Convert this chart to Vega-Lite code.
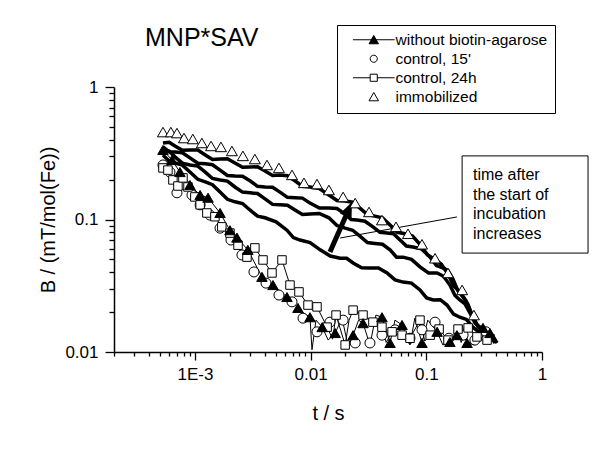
{
  "$schema": "https://vega.github.io/schema/vega-lite/v6.json",
  "width": 428,
  "height": 265,
  "autosize": {"type": "none"},
  "padding": {"left": 114, "top": 87, "right": 58, "bottom": 98},
  "title": {"text": "MNP*SAV", "anchor": "start", "frame": "group", "dx": 31, "offset": 0, "dy": 46, "baseline": "alphabetic", "fontSize": 25, "font": "Liberation Sans", "fontWeight": "normal", "color": "black"},
  "config": {"view": {"stroke": null}, "font": "Liberation Sans"},
  "datasets": {
    "markers": [
      {"series": "without biotin-agarose", "t": 0.00053, "B": 0.335},
      {"series": "without biotin-agarose", "t": 0.000634, "B": 0.281},
      {"series": "without biotin-agarose", "t": 0.000743, "B": 0.228},
      {"series": "without biotin-agarose", "t": 0.000907, "B": 0.182},
      {"series": "without biotin-agarose", "t": 0.00111, "B": 0.153},
      {"series": "without biotin-agarose", "t": 0.0013, "B": 0.146},
      {"series": "without biotin-agarose", "t": 0.00165, "B": 0.112},
      {"series": "without biotin-agarose", "t": 0.00201, "B": 0.083},
      {"series": "without biotin-agarose", "t": 0.00231, "B": 0.073},
      {"series": "without biotin-agarose", "t": 0.00287, "B": 0.059},
      {"series": "without biotin-agarose", "t": 0.0038, "B": 0.0369},
      {"series": "without biotin-agarose", "t": 0.00473, "B": 0.032},
      {"series": "without biotin-agarose", "t": 0.00625, "B": 0.026},
      {"series": "without biotin-agarose", "t": 0.00778, "B": 0.0215},
      {"series": "without biotin-agarose", "t": 0.00988, "B": 0.0183},
      {"series": "without biotin-agarose", "t": 0.0126, "B": 0.0154},
      {"series": "without biotin-agarose", "t": 0.0163, "B": 0.0139},
      {"series": "without biotin-agarose", "t": 0.0233, "B": 0.0134},
      {"series": "without biotin-agarose", "t": 0.0284, "B": 0.0165},
      {"series": "without biotin-agarose", "t": 0.0414, "B": 0.0183},
      {"series": "without biotin-agarose", "t": 0.0486, "B": 0.0117},
      {"series": "without biotin-agarose", "t": 0.0617, "B": 0.016},
      {"series": "without biotin-agarose", "t": 0.0918, "B": 0.0117},
      {"series": "without biotin-agarose", "t": 0.124, "B": 0.0142},
      {"series": "without biotin-agarose", "t": 0.16, "B": 0.0119},
      {"series": "without biotin-agarose", "t": 0.184, "B": 0.0134},
      {"series": "without biotin-agarose", "t": 0.225, "B": 0.0117},
      {"series": "without biotin-agarose", "t": 0.309, "B": 0.0152},
      {"series": "without biotin-agarose", "t": 0.355, "B": 0.0139},
      {"series": "control, 15'", "t": 0.00053, "B": 0.258},
      {"series": "control, 15'", "t": 0.000609, "B": 0.228},
      {"series": "control, 15'", "t": 0.0007, "B": 0.159},
      {"series": "control, 15'", "t": 0.000821, "B": 0.182},
      {"series": "control, 15'", "t": 0.000944, "B": 0.153},
      {"series": "control, 15'", "t": 0.00111, "B": 0.129},
      {"series": "control, 15'", "t": 0.00135, "B": 0.108},
      {"series": "control, 15'", "t": 0.00165, "B": 0.086},
      {"series": "control, 15'", "t": 0.00205, "B": 0.07},
      {"series": "control, 15'", "t": 0.00255, "B": 0.054},
      {"series": "control, 15'", "t": 0.00324, "B": 0.0402},
      {"series": "control, 15'", "t": 0.00412, "B": 0.0331},
      {"series": "control, 15'", "t": 0.00533, "B": 0.0269},
      {"series": "control, 15'", "t": 0.00691, "B": 0.0239},
      {"series": "control, 15'", "t": 0.0086, "B": 0.018},
      {"series": "control, 15'", "t": 0.01136, "B": 0.0142},
      {"series": "control, 15'", "t": 0.0147, "B": 0.0168},
      {"series": "control, 15'", "t": 0.0191, "B": 0.0174},
      {"series": "control, 15'", "t": 0.0243, "B": 0.0117},
      {"series": "control, 15'", "t": 0.0326, "B": 0.0117},
      {"series": "control, 15'", "t": 0.0414, "B": 0.0134},
      {"series": "control, 15'", "t": 0.0536, "B": 0.0147},
      {"series": "control, 15'", "t": 0.0723, "B": 0.0127},
      {"series": "control, 15'", "t": 0.0918, "B": 0.0147},
      {"series": "control, 15'", "t": 0.119, "B": 0.0168},
      {"series": "control, 15'", "t": 0.157, "B": 0.0127},
      {"series": "control, 15'", "t": 0.208, "B": 0.0134},
      {"series": "control, 15'", "t": 0.263, "B": 0.0123},
      {"series": "control, 15'", "t": 0.328, "B": 0.0142},
      {"series": "control, 24h", "t": 0.00053, "B": 0.245},
      {"series": "control, 24h", "t": 0.000585, "B": 0.236},
      {"series": "control, 24h", "t": 0.000646, "B": 0.199},
      {"series": "control, 24h", "t": 0.000714, "B": 0.179},
      {"series": "control, 24h", "t": 0.000789, "B": 0.206},
      {"series": "control, 24h", "t": 0.000872, "B": 0.176},
      {"series": "control, 24h", "t": 0.001, "B": 0.148},
      {"series": "control, 24h", "t": 0.00111, "B": 0.129},
      {"series": "control, 24h", "t": 0.00127, "B": 0.112},
      {"series": "control, 24h", "t": 0.00149, "B": 0.105},
      {"series": "control, 24h", "t": 0.00171, "B": 0.088},
      {"series": "control, 24h", "t": 0.00201, "B": 0.079},
      {"series": "control, 24h", "t": 0.00236, "B": 0.064},
      {"series": "control, 24h", "t": 0.00282, "B": 0.052},
      {"series": "control, 24h", "t": 0.0033, "B": 0.061},
      {"series": "control, 24h", "t": 0.00388, "B": 0.0495},
      {"series": "control, 24h", "t": 0.00464, "B": 0.0395},
      {"series": "control, 24h", "t": 0.00566, "B": 0.0495},
      {"series": "control, 24h", "t": 0.00664, "B": 0.032},
      {"series": "control, 24h", "t": 0.00794, "B": 0.0284},
      {"series": "control, 24h", "t": 0.0095, "B": 0.0226},
      {"series": "control, 24h", "t": 0.01136, "B": 0.0219},
      {"series": "control, 24h", "t": 0.0139, "B": 0.0154},
      {"series": "control, 24h", "t": 0.0166, "B": 0.019},
      {"series": "control, 24h", "t": 0.0199, "B": 0.0113},
      {"series": "control, 24h", "t": 0.0233, "B": 0.0207},
      {"series": "control, 24h", "t": 0.0284, "B": 0.019},
      {"series": "control, 24h", "t": 0.0346, "B": 0.0168},
      {"series": "control, 24h", "t": 0.0414, "B": 0.0154},
      {"series": "control, 24h", "t": 0.0506, "B": 0.0142},
      {"series": "control, 24h", "t": 0.0617, "B": 0.0134},
      {"series": "control, 24h", "t": 0.0723, "B": 0.0127},
      {"series": "control, 24h", "t": 0.0882, "B": 0.0174},
      {"series": "control, 24h", "t": 0.108, "B": 0.0134},
      {"series": "control, 24h", "t": 0.129, "B": 0.0149},
      {"series": "control, 24h", "t": 0.154, "B": 0.0123},
      {"series": "control, 24h", "t": 0.188, "B": 0.0149},
      {"series": "control, 24h", "t": 0.23, "B": 0.0152},
      {"series": "control, 24h", "t": 0.274, "B": 0.013},
      {"series": "control, 24h", "t": 0.335, "B": 0.0123},
      {"series": "immobilized", "t": 0.00053, "B": 0.457},
      {"series": "immobilized", "t": 0.00062, "B": 0.457},
      {"series": "immobilized", "t": 0.0007, "B": 0.449},
      {"series": "immobilized", "t": 0.000805, "B": 0.412},
      {"series": "immobilized", "t": 0.00096, "B": 0.405},
      {"series": "immobilized", "t": 0.00115, "B": 0.378},
      {"series": "immobilized", "t": 0.00138, "B": 0.359},
      {"series": "immobilized", "t": 0.00168, "B": 0.353},
      {"series": "immobilized", "t": 0.00209, "B": 0.329},
      {"series": "immobilized", "t": 0.0026, "B": 0.302},
      {"series": "immobilized", "t": 0.0033, "B": 0.286},
      {"series": "immobilized", "t": 0.0042, "B": 0.258},
      {"series": "immobilized", "t": 0.00533, "B": 0.245},
      {"series": "immobilized", "t": 0.00691, "B": 0.217},
      {"series": "immobilized", "t": 0.00877, "B": 0.189},
      {"series": "immobilized", "t": 0.01136, "B": 0.185},
      {"series": "immobilized", "t": 0.0144, "B": 0.167},
      {"series": "immobilized", "t": 0.0191, "B": 0.148},
      {"series": "immobilized", "t": 0.0243, "B": 0.133},
      {"series": "immobilized", "t": 0.032, "B": 0.114},
      {"series": "immobilized", "t": 0.0414, "B": 0.099},
      {"series": "immobilized", "t": 0.0547, "B": 0.088},
      {"series": "immobilized", "t": 0.0695, "B": 0.078},
      {"series": "immobilized", "t": 0.0918, "B": 0.065},
      {"series": "immobilized", "t": 0.119, "B": 0.051},
      {"series": "immobilized", "t": 0.154, "B": 0.0395},
      {"series": "immobilized", "t": 0.204, "B": 0.0294},
      {"series": "immobilized", "t": 0.258, "B": 0.019},
      {"series": "immobilized", "t": 0.328, "B": 0.0134}
    ],
    "lines": [
      {"series": "w", "t": 0.00053, "B": 0.335}, {"series": "w", "t": 0.000634, "B": 0.281}, {"series": "w", "t": 0.000743, "B": 0.228},
      {"series": "w", "t": 0.000907, "B": 0.182}, {"series": "w", "t": 0.00111, "B": 0.153}, {"series": "w", "t": 0.0013, "B": 0.146},
      {"series": "w", "t": 0.00165, "B": 0.112}, {"series": "w", "t": 0.00201, "B": 0.083}, {"series": "w", "t": 0.00231, "B": 0.073},
      {"series": "w", "t": 0.00287, "B": 0.059}, {"series": "w", "t": 0.0038, "B": 0.0369}, {"series": "w", "t": 0.00473, "B": 0.032},
      {"series": "w", "t": 0.00625, "B": 0.026}, {"series": "w", "t": 0.00778, "B": 0.0215}, {"series": "w", "t": 0.00877, "B": 0.0196},
      {"series": "w", "t": 0.00988, "B": 0.0183}, {"series": "w", "t": 0.01028, "B": 0.0104}, {"series": "w", "t": 0.01114, "B": 0.0174},
      {"series": "w", "t": 0.0126, "B": 0.0154}, {"series": "w", "t": 0.0142, "B": 0.0123}, {"series": "w", "t": 0.0163, "B": 0.0139},
      {"series": "w", "t": 0.0187, "B": 0.018}, {"series": "w", "t": 0.021, "B": 0.0113}, {"series": "w", "t": 0.0233, "B": 0.0134},
      {"series": "w", "t": 0.026, "B": 0.0174}, {"series": "w", "t": 0.0284, "B": 0.0165}, {"series": "w", "t": 0.0326, "B": 0.0113},
      {"series": "w", "t": 0.0367, "B": 0.019}, {"series": "w", "t": 0.0414, "B": 0.0183}, {"series": "w", "t": 0.0486, "B": 0.0117},
      {"series": "w", "t": 0.0536, "B": 0.0174}, {"series": "w", "t": 0.0617, "B": 0.016}, {"series": "w", "t": 0.0723, "B": 0.0113},
      {"series": "w", "t": 0.0796, "B": 0.018}, {"series": "w", "t": 0.0918, "B": 0.0117}, {"series": "w", "t": 0.103, "B": 0.0174},
      {"series": "w", "t": 0.124, "B": 0.0142}, {"series": "w", "t": 0.139, "B": 0.0113}, {"series": "w", "t": 0.16, "B": 0.0119},
      {"series": "w", "t": 0.184, "B": 0.0134}, {"series": "w", "t": 0.204, "B": 0.016}, {"series": "w", "t": 0.225, "B": 0.0117},
      {"series": "w", "t": 0.263, "B": 0.0113}, {"series": "w", "t": 0.309, "B": 0.0152}, {"series": "w", "t": 0.355, "B": 0.0139},
      {"series": "w", "t": 0.393, "B": 0.0134},
      {"series": "c24", "t": 0.00053, "B": 0.245}, {"series": "c24", "t": 0.000585, "B": 0.236}, {"series": "c24", "t": 0.000646, "B": 0.199},
      {"series": "c24", "t": 0.000714, "B": 0.179}, {"series": "c24", "t": 0.000789, "B": 0.206}, {"series": "c24", "t": 0.000872, "B": 0.176},
      {"series": "c24", "t": 0.001, "B": 0.148}, {"series": "c24", "t": 0.00111, "B": 0.129}, {"series": "c24", "t": 0.00127, "B": 0.112},
      {"series": "c24", "t": 0.00149, "B": 0.105}, {"series": "c24", "t": 0.00171, "B": 0.088}, {"series": "c24", "t": 0.00201, "B": 0.079},
      {"series": "c24", "t": 0.00236, "B": 0.064}, {"series": "c24", "t": 0.00282, "B": 0.052}, {"series": "c24", "t": 0.0033, "B": 0.061},
      {"series": "c24", "t": 0.00388, "B": 0.0495}, {"series": "c24", "t": 0.00464, "B": 0.0395}, {"series": "c24", "t": 0.00566, "B": 0.0495},
      {"series": "c24", "t": 0.00664, "B": 0.032}, {"series": "c24", "t": 0.00794, "B": 0.0284}, {"series": "c24", "t": 0.0095, "B": 0.0226},
      {"series": "c24", "t": 0.01136, "B": 0.0219}, {"series": "c24", "t": 0.0139, "B": 0.0154}, {"series": "c24", "t": 0.0155, "B": 0.0125},
      {"series": "c24", "t": 0.0166, "B": 0.019}, {"series": "c24", "t": 0.0199, "B": 0.0113}, {"series": "c24", "t": 0.0215, "B": 0.0174},
      {"series": "c24", "t": 0.0233, "B": 0.0207}, {"series": "c24", "t": 0.0284, "B": 0.019}, {"series": "c24", "t": 0.0346, "B": 0.0168},
      {"series": "c24", "t": 0.0414, "B": 0.0154}, {"series": "c24", "t": 0.045, "B": 0.0118}, {"series": "c24", "t": 0.0506, "B": 0.0142},
      {"series": "c24", "t": 0.0617, "B": 0.0134}, {"series": "c24", "t": 0.0723, "B": 0.0127}, {"series": "c24", "t": 0.0882, "B": 0.0174},
      {"series": "c24", "t": 0.097, "B": 0.0121}, {"series": "c24", "t": 0.108, "B": 0.0134}, {"series": "c24", "t": 0.129, "B": 0.0149},
      {"series": "c24", "t": 0.154, "B": 0.0123}, {"series": "c24", "t": 0.188, "B": 0.0149}, {"series": "c24", "t": 0.2, "B": 0.0118},
      {"series": "c24", "t": 0.23, "B": 0.0152}, {"series": "c24", "t": 0.274, "B": 0.013}, {"series": "c24", "t": 0.335, "B": 0.0123},
      {"series": "c24", "t": 0.38, "B": 0.0128},
      {"series": "T4", "t": 0.00053, "B": 0.378}, {"series": "T4", "t": 0.0006, "B": 0.383}, {"series": "T4", "t": 0.000673, "B": 0.359},
      {"series": "T4", "t": 0.00078, "B": 0.333}, {"series": "T4", "t": 0.000907, "B": 0.335}, {"series": "T4", "t": 0.00106, "B": 0.334},
      {"series": "T4", "t": 0.00123, "B": 0.307}, {"series": "T4", "t": 0.00142, "B": 0.284}, {"series": "T4", "t": 0.00165, "B": 0.286},
      {"series": "T4", "t": 0.00191, "B": 0.287}, {"series": "T4", "t": 0.00222, "B": 0.267}, {"series": "T4", "t": 0.00258, "B": 0.248},
      {"series": "T4", "t": 0.00299, "B": 0.249}, {"series": "T4", "t": 0.00348, "B": 0.25}, {"series": "T4", "t": 0.00404, "B": 0.232},
      {"series": "T4", "t": 0.00469, "B": 0.215}, {"series": "T4", "t": 0.00544, "B": 0.217}, {"series": "T4", "t": 0.00631, "B": 0.214},
      {"series": "T4", "t": 0.00733, "B": 0.196}, {"series": "T4", "t": 0.0085, "B": 0.178}, {"series": "T4", "t": 0.00988, "B": 0.176},
      {"series": "T4", "t": 0.0119, "B": 0.171}, {"series": "T4", "t": 0.0144, "B": 0.153}, {"series": "T4", "t": 0.0169, "B": 0.139},
      {"series": "T4", "t": 0.0199, "B": 0.138}, {"series": "T4", "t": 0.0231, "B": 0.135}, {"series": "T4", "t": 0.0267, "B": 0.122},
      {"series": "T4", "t": 0.031, "B": 0.109}, {"series": "T4", "t": 0.036, "B": 0.106}, {"series": "T4", "t": 0.0418, "B": 0.103},
      {"series": "T4", "t": 0.0486, "B": 0.091}, {"series": "T4", "t": 0.0564, "B": 0.08}, {"series": "T4", "t": 0.0655, "B": 0.078},
      {"series": "T4", "t": 0.076, "B": 0.075}, {"series": "T4", "t": 0.0882, "B": 0.065}, {"series": "T4", "t": 0.1025, "B": 0.054},
      {"series": "T4", "t": 0.119, "B": 0.05}, {"series": "T4", "t": 0.135, "B": 0.046}, {"series": "T4", "t": 0.154, "B": 0.0388},
      {"series": "T4", "t": 0.173, "B": 0.0315}, {"series": "T4", "t": 0.195, "B": 0.0284}, {"series": "T4", "t": 0.22, "B": 0.0244},
      {"series": "T4", "t": 0.248, "B": 0.019}, {"series": "T4", "t": 0.28, "B": 0.0155}, {"series": "T4", "t": 0.316, "B": 0.0139},
      {"series": "T4", "t": 0.352, "B": 0.0134}, {"series": "T4", "t": 0.393, "B": 0.0117},
      {"series": "T3", "t": 0.00053, "B": 0.353}, {"series": "T3", "t": 0.0006, "B": 0.324}, {"series": "T3", "t": 0.000673, "B": 0.323},
      {"series": "T3", "t": 0.00078, "B": 0.319}, {"series": "T3", "t": 0.000907, "B": 0.292}, {"series": "T3", "t": 0.00106, "B": 0.266},
      {"series": "T3", "t": 0.00123, "B": 0.263}, {"series": "T3", "t": 0.00142, "B": 0.259}, {"series": "T3", "t": 0.00165, "B": 0.236},
      {"series": "T3", "t": 0.00191, "B": 0.215}, {"series": "T3", "t": 0.00222, "B": 0.213}, {"series": "T3", "t": 0.00258, "B": 0.212},
      {"series": "T3", "t": 0.00299, "B": 0.196}, {"series": "T3", "t": 0.00348, "B": 0.178}, {"series": "T3", "t": 0.00404, "B": 0.176},
      {"series": "T3", "t": 0.00469, "B": 0.175}, {"series": "T3", "t": 0.00544, "B": 0.161}, {"series": "T3", "t": 0.00631, "B": 0.147},
      {"series": "T3", "t": 0.00733, "B": 0.146}, {"series": "T3", "t": 0.0085, "B": 0.145}, {"series": "T3", "t": 0.00988, "B": 0.133},
      {"series": "T3", "t": 0.0119, "B": 0.122}, {"series": "T3", "t": 0.0144, "B": 0.122}, {"series": "T3", "t": 0.0169, "B": 0.121},
      {"series": "T3", "t": 0.0199, "B": 0.11}, {"series": "T3", "t": 0.0224, "B": 0.1}, {"series": "T3", "t": 0.0252, "B": 0.099},
      {"series": "T3", "t": 0.0295, "B": 0.097}, {"series": "T3", "t": 0.0346, "B": 0.088}, {"series": "T3", "t": 0.0398, "B": 0.08},
      {"series": "T3", "t": 0.0458, "B": 0.079}, {"series": "T3", "t": 0.0521, "B": 0.078}, {"series": "T3", "t": 0.0593, "B": 0.07},
      {"series": "T3", "t": 0.0674, "B": 0.063}, {"series": "T3", "t": 0.0767, "B": 0.062}, {"series": "T3", "t": 0.091, "B": 0.06},
      {"series": "T3", "t": 0.108, "B": 0.052}, {"series": "T3", "t": 0.1225, "B": 0.045}, {"series": "T3", "t": 0.139, "B": 0.0431},
      {"series": "T3", "t": 0.154, "B": 0.0411}, {"series": "T3", "t": 0.17, "B": 0.0356}, {"series": "T3", "t": 0.188, "B": 0.0289},
      {"series": "T3", "t": 0.208, "B": 0.026}, {"series": "T3", "t": 0.229, "B": 0.0229}, {"series": "T3", "t": 0.253, "B": 0.0183},
      {"series": "T3", "t": 0.28, "B": 0.0156}, {"series": "T3", "t": 0.309, "B": 0.0147}, {"series": "T3", "t": 0.348, "B": 0.014},
      {"series": "T3", "t": 0.393, "B": 0.0121},
      {"series": "T2", "t": 0.00053, "B": 0.335}, {"series": "T2", "t": 0.0006, "B": 0.328}, {"series": "T2", "t": 0.000673, "B": 0.297},
      {"series": "T2", "t": 0.00078, "B": 0.266}, {"series": "T2", "t": 0.000907, "B": 0.258}, {"series": "T2", "t": 0.00106, "B": 0.253},
      {"series": "T2", "t": 0.00123, "B": 0.228}, {"series": "T2", "t": 0.00142, "B": 0.204}, {"series": "T2", "t": 0.00165, "B": 0.199},
      {"series": "T2", "t": 0.00191, "B": 0.195}, {"series": "T2", "t": 0.00222, "B": 0.176}, {"series": "T2", "t": 0.00258, "B": 0.161},
      {"series": "T2", "t": 0.00299, "B": 0.159}, {"series": "T2", "t": 0.00348, "B": 0.157}, {"series": "T2", "t": 0.00404, "B": 0.143},
      {"series": "T2", "t": 0.00469, "B": 0.13}, {"series": "T2", "t": 0.00544, "B": 0.129}, {"series": "T2", "t": 0.00631, "B": 0.128},
      {"series": "T2", "t": 0.00733, "B": 0.118}, {"series": "T2", "t": 0.0085, "B": 0.109}, {"series": "T2", "t": 0.00988, "B": 0.11},
      {"series": "T2", "t": 0.0119, "B": 0.111}, {"series": "T2", "t": 0.0144, "B": 0.103}, {"series": "T2", "t": 0.0169, "B": 0.09},
      {"series": "T2", "t": 0.0199, "B": 0.086}, {"series": "T2", "t": 0.0231, "B": 0.083}, {"series": "T2", "t": 0.0267, "B": 0.075},
      {"series": "T2", "t": 0.031, "B": 0.067}, {"series": "T2", "t": 0.036, "B": 0.066}, {"series": "T2", "t": 0.0418, "B": 0.065},
      {"series": "T2", "t": 0.0486, "B": 0.059}, {"series": "T2", "t": 0.0553, "B": 0.052}, {"series": "T2", "t": 0.063, "B": 0.052},
      {"series": "T2", "t": 0.0745, "B": 0.05}, {"series": "T2", "t": 0.0882, "B": 0.0439}, {"series": "T2", "t": 0.1045, "B": 0.0395},
      {"series": "T2", "t": 0.124, "B": 0.0395}, {"series": "T2", "t": 0.141, "B": 0.0373}, {"series": "T2", "t": 0.16, "B": 0.032},
      {"series": "T2", "t": 0.177, "B": 0.0267}, {"series": "T2", "t": 0.195, "B": 0.0247}, {"series": "T2", "t": 0.216, "B": 0.0231},
      {"series": "T2", "t": 0.239, "B": 0.0196}, {"series": "T2", "t": 0.264, "B": 0.0165}, {"series": "T2", "t": 0.291, "B": 0.0154},
      {"series": "T2", "t": 0.338, "B": 0.0145}, {"series": "T2", "t": 0.393, "B": 0.0123},
      {"series": "T1", "t": 0.00053, "B": 0.307}, {"series": "T1", "t": 0.0006, "B": 0.275}, {"series": "T1", "t": 0.000673, "B": 0.267},
      {"series": "T1", "t": 0.00078, "B": 0.257}, {"series": "T1", "t": 0.000907, "B": 0.228}, {"series": "T1", "t": 0.00106, "B": 0.201},
      {"series": "T1", "t": 0.00123, "B": 0.192}, {"series": "T1", "t": 0.00142, "B": 0.183}, {"series": "T1", "t": 0.00165, "B": 0.161},
      {"series": "T1", "t": 0.00191, "B": 0.142}, {"series": "T1", "t": 0.00222, "B": 0.136}, {"series": "T1", "t": 0.00258, "B": 0.132},
      {"series": "T1", "t": 0.00299, "B": 0.118}, {"series": "T1", "t": 0.00348, "B": 0.106}, {"series": "T1", "t": 0.00404, "B": 0.103},
      {"series": "T1", "t": 0.00503, "B": 0.096}, {"series": "T1", "t": 0.00625, "B": 0.083}, {"series": "T1", "t": 0.0071, "B": 0.073},
      {"series": "T1", "t": 0.0081, "B": 0.07}, {"series": "T1", "t": 0.0099, "B": 0.067}, {"series": "T1", "t": 0.0121, "B": 0.059},
      {"series": "T1", "t": 0.0148, "B": 0.053}, {"series": "T1", "t": 0.018, "B": 0.051}, {"series": "T1", "t": 0.0205, "B": 0.051},
      {"series": "T1", "t": 0.0233, "B": 0.047}, {"series": "T1", "t": 0.0276, "B": 0.0432}, {"series": "T1", "t": 0.0326, "B": 0.0431},
      {"series": "T1", "t": 0.0386, "B": 0.043}, {"series": "T1", "t": 0.0458, "B": 0.0395}, {"series": "T1", "t": 0.0537, "B": 0.035},
      {"series": "T1", "t": 0.063, "B": 0.0337}, {"series": "T1", "t": 0.0745, "B": 0.0331}, {"series": "T1", "t": 0.0882, "B": 0.0294},
      {"series": "T1", "t": 0.1007, "B": 0.0256}, {"series": "T1", "t": 0.115, "B": 0.0247}, {"series": "T1", "t": 0.132, "B": 0.0248},
      {"series": "T1", "t": 0.151, "B": 0.0226}, {"series": "T1", "t": 0.172, "B": 0.0193}, {"series": "T1", "t": 0.195, "B": 0.0183},
      {"series": "T1", "t": 0.222, "B": 0.0176}, {"series": "T1", "t": 0.253, "B": 0.0154}, {"series": "T1", "t": 0.291, "B": 0.0139},
      {"series": "T1", "t": 0.335, "B": 0.0139}, {"series": "T1", "t": 0.37, "B": 0.0134}, {"series": "T1", "t": 0.409, "B": 0.0117}
    ],
    "box": [{"t": 0.204, "t2": 2.5, "B": 0.302, "B2": 0.0558}],
    "note": [{"t": 0.253, "B": 0.249, "text": "time after\nthe start of\nincubation\nincreases"}],
    "leader": [{"t": 0.184, "B": 0.1045, "t2": 0.018, "B2": 0.0725}],
    "arrow": [{"t": 0.0147, "B": 0.0569, "t2": 0.0213, "B2": 0.1186}]
  },
  "layer": [
    {
      "data": {"name": "lines"},
      "transform": [{"filter": "datum.series == 'T1' || datum.series == 'T2' || datum.series == 'T3' || datum.series == 'T4'"}],
      "mark": {"type": "line", "color": "black", "strokeWidth": 3.5, "clip": true},
      "encoding": {
        "x": {"field": "t", "type": "quantitative", "scale": {"type": "log", "domain": [0.0002, 1], "nice": false},
          "axis": {"title": "t / s", "values": [0.0002,0.0003,0.0004,0.0005,0.0006,0.0007,0.0008,0.0009,0.001,0.002,0.003,0.004,0.005,0.006,0.007,0.008,0.009,0.01,0.02,0.03,0.04,0.05,0.06,0.07,0.08,0.09,0.1,0.2,0.3,0.4,0.5,0.6,0.7,0.8,0.9,1],
            "labelExpr": "datum.value == 1 ? '1' : datum.value == 0.1 ? '0.1' : datum.value == 0.01 ? '0.01' : datum.value == 0.001 ? '1E-3' : ''",
            "labelOverlap": false, "labelFlush": false, "grid": false,
            "tickSize": {"condition": {"test": "datum.value == 1 || datum.value == 0.1 || datum.value == 0.01 || datum.value == 0.001", "value": 8}, "value": 4},
            "tickColor": "black", "tickWidth": 1.3, "domainColor": "black", "domainWidth": 1.5,
            "labelFont": "Liberation Sans", "labelFontSize": 17, "labelColor": "black", "labelPadding": 6,
            "titleFont": "Liberation Sans", "titleFontSize": 20, "titleFontWeight": "normal", "titleColor": "black", "titlePadding": 21}},
        "y": {"field": "B", "type": "quantitative", "scale": {"type": "log", "domain": [0.01, 1], "nice": false},
          "axis": {"title": "B / (mT/mol(Fe))", "values": [0.01,0.02,0.03,0.04,0.05,0.06,0.07,0.08,0.09,0.1,0.2,0.3,0.4,0.5,0.6,0.7,0.8,0.9,1],
            "labelExpr": "datum.value == 1 ? '1' : datum.value == 0.1 ? '0.1' : datum.value == 0.01 ? '0.01' : ''",
            "labelOverlap": false, "labelFlush": false, "grid": false,
            "tickSize": {"condition": {"test": "datum.value == 1 || datum.value == 0.1 || datum.value == 0.01", "value": 9}, "value": 5},
            "tickColor": "black", "tickWidth": 1.3, "domainColor": "black", "domainWidth": 1.5,
            "labelFont": "Liberation Sans", "labelFontSize": 17, "labelColor": "black", "labelPadding": 7,
            "titleFont": "Liberation Sans", "titleFontSize": 20, "titleFontWeight": "normal", "titleColor": "black", "titlePadding": 6}},
        "detail": {"field": "series"}
      }
    },
    {
      "data": {"name": "lines"},
      "transform": [{"filter": "datum.series == 'w' || datum.series == 'c24'"}],
      "mark": {"type": "line", "color": "black", "strokeWidth": 1, "clip": true},
      "encoding": {
        "x": {"field": "t", "type": "quantitative"},
        "y": {"field": "B", "type": "quantitative"},
        "detail": {"field": "series"}
      }
    },
    {
      "data": {"name": "box"},
      "mark": {"type": "rect", "fill": "white", "stroke": "black", "strokeWidth": 1},
      "encoding": {
        "x": {"field": "t", "type": "quantitative"}, "x2": {"field": "t2"},
        "y": {"field": "B", "type": "quantitative"}, "y2": {"field": "B2"}
      }
    },
    {
      "data": {"name": "note"},
      "mark": {"type": "text", "align": "left", "baseline": "top", "lineBreak": "\n", "lineHeight": 19.5, "fontSize": 16, "font": "Liberation Sans", "color": "black"},
      "encoding": {
        "x": {"field": "t", "type": "quantitative"},
        "y": {"field": "B", "type": "quantitative"},
        "text": {"field": "text"}
      }
    },
    {
      "data": {"name": "leader"},
      "mark": {"type": "rule", "color": "black", "strokeWidth": 1},
      "encoding": {
        "x": {"field": "t", "type": "quantitative"}, "x2": {"field": "t2"},
        "y": {"field": "B", "type": "quantitative"}, "y2": {"field": "B2"}
      }
    },
    {
      "data": {"name": "arrow"},
      "mark": {"type": "rule", "color": "black", "strokeWidth": 5},
      "encoding": {
        "x": {"field": "t", "type": "quantitative"}, "x2": {"field": "t2"},
        "y": {"field": "B", "type": "quantitative"}, "y2": {"field": "B2"}
      }
    },
    {
      "data": {"name": "arrow"},
      "mark": {"type": "point", "shape": "M0,-1.2L0.9,1L-0.9,1Z", "size": 196, "angle": 24, "filled": true, "color": "black", "opacity": 1},
      "encoding": {
        "x": {"field": "t2", "type": "quantitative"},
        "y": {"field": "B2", "type": "quantitative"}
      }
    },
    {
      "data": {"name": "markers"},
      "transform": [{"filter": "datum.series == 'immobilized'"}],
      "mark": {"type": "point", "shape": "triangle-up", "size": 121, "filled": true, "fill": "white", "stroke": "black", "strokeWidth": 1, "opacity": 1},
      "encoding": {"x": {"field": "t", "type": "quantitative"}, "y": {"field": "B", "type": "quantitative"}}
    },
    {
      "data": {"name": "markers"},
      "transform": [{"filter": "datum.series == \"control, 15'\""}],
      "mark": {"type": "point", "shape": "circle", "size": 100, "filled": true, "fill": "white", "stroke": "black", "strokeWidth": 1, "opacity": 1},
      "encoding": {"x": {"field": "t", "type": "quantitative"}, "y": {"field": "B", "type": "quantitative"}}
    },
    {
      "data": {"name": "markers"},
      "transform": [{"filter": "datum.series == 'control, 24h'"}],
      "mark": {"type": "point", "shape": "square", "size": 72, "filled": true, "fill": "white", "stroke": "black", "strokeWidth": 1, "opacity": 1},
      "encoding": {"x": {"field": "t", "type": "quantitative"}, "y": {"field": "B", "type": "quantitative"}}
    },
    {
      "data": {"name": "markers"},
      "transform": [{"filter": "datum.series == 'without biotin-agarose'"}],
      "mark": {"type": "point", "shape": "triangle-up", "size": 110, "filled": true, "fill": "black", "stroke": "black", "strokeWidth": 1, "opacity": 1},
      "encoding": {"x": {"field": "t", "type": "quantitative"}, "y": {"field": "B", "type": "quantitative"}}
    },
    {
      "data": {"name": "markers"},
      "transform": [{"filter": "datum.B < 0"}],
      "mark": {"type": "point", "filled": true, "stroke": "black", "strokeWidth": 1},
      "encoding": {
        "x": {"field": "t", "type": "quantitative"},
        "y": {"field": "B", "type": "quantitative"},
        "shape": {"field": "series", "type": "nominal",
          "scale": {"domain": ["without biotin-agarose", "control, 15'", "control, 24h", "immobilized"],
            "range": ["M-4.4,0H4.4M0,-0.9L1,0.85L-1,0.85Z", "M0.75,0A0.75,0.75,0,1,1,-0.75,0A0.75,0.75,0,1,1,0.75,0Z", "M-4.4,0H-0.75M0.75,0H4.4M-0.75,-0.75H0.75V0.75H-0.75Z", "M0,-0.9L1,0.85L-1,0.85Z"]},
          "legend": {"title": null, "orient": "none", "legendX": 223, "legendY": -62, "strokeColor": "black", "padding": 7,
            "labelFont": "Liberation Sans", "labelFontSize": 15.5, "labelColor": "black", "labelLimit": 300,
            "symbolSize": 90, "symbolStrokeWidth": 1, "symbolStrokeColor": "black", "symbolOpacity": 1,
            "symbolOffset": 22, "labelOffset": 14, "rowPadding": 2,
            "encode": {"symbols": {"update": {"stroke": {"value": "black"}, "strokeWidth": {"value": 1}, "opacity": {"value": 1}}}}}},
        "fill": {"field": "series", "type": "nominal",
          "scale": {"domain": ["without biotin-agarose", "control, 15'", "control, 24h", "immobilized"], "range": ["black", "white", "white", "white"]},
          "legend": {"title": null, "orient": "none", "legendX": 223, "legendY": -62, "strokeColor": "black", "padding": 7,
            "labelFont": "Liberation Sans", "labelFontSize": 15.5, "labelColor": "black", "labelLimit": 300,
            "symbolSize": 90, "symbolStrokeWidth": 1, "symbolStrokeColor": "black", "symbolOpacity": 1,
            "symbolOffset": 22, "labelOffset": 14, "rowPadding": 2,
            "encode": {"symbols": {"update": {"stroke": {"value": "black"}, "strokeWidth": {"value": 1}, "opacity": {"value": 1}}}}}}
      }
    }
  ]
}
